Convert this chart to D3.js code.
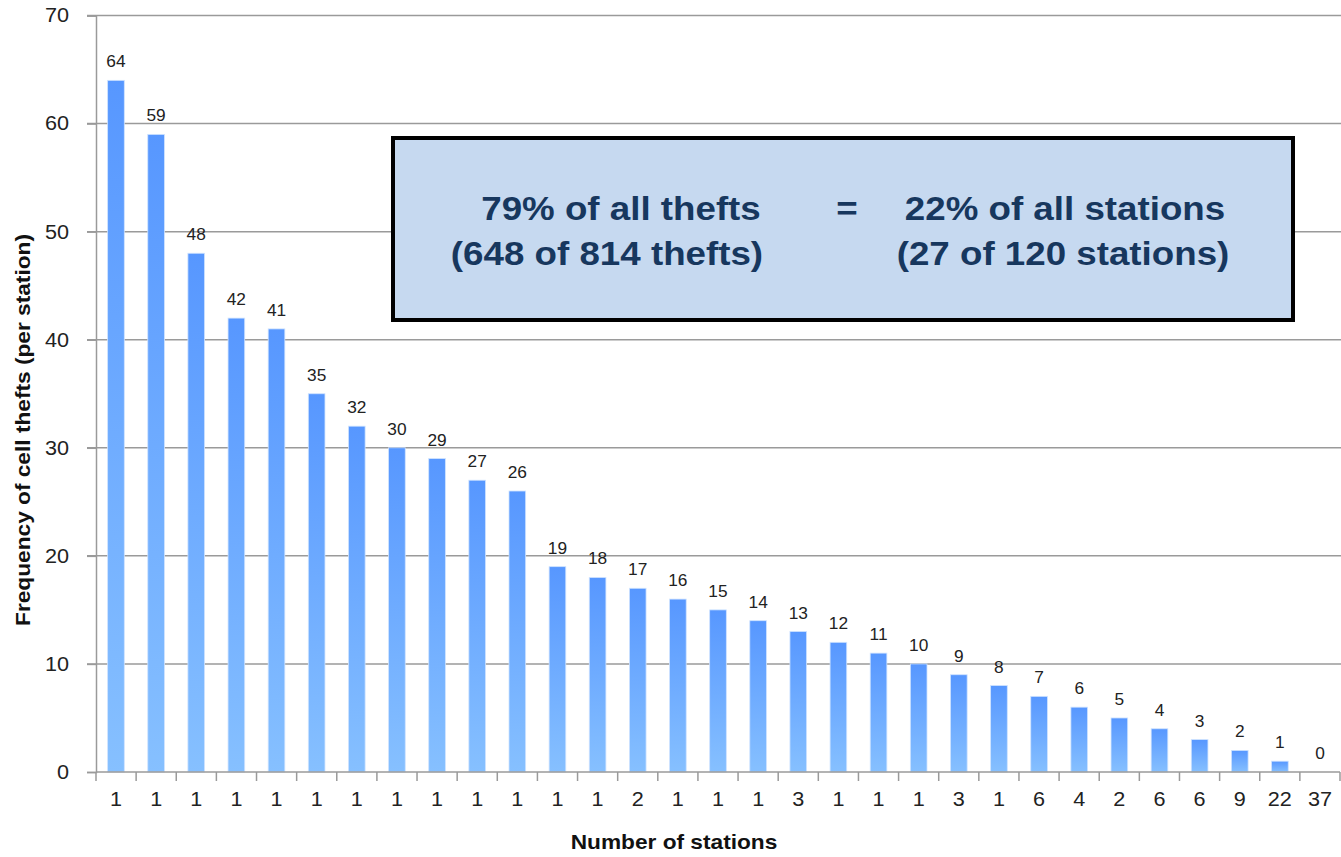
<!DOCTYPE html>
<html><head><meta charset="utf-8">
<script src="https://cdn.jsdelivr.net/npm/d3@7"></script>
<style>body{margin:0;background:#fff}svg{display:block}</style>
</head><body>
<svg id="c" width="1341" height="857"></svg>
<script>
const stations = ["1","1","1","1","1","1","1","1","1","1","1","1","1","2","1","1","1","3","1","1","1","3","1","6","4","2","6","6","9","22","37"];
const thefts = [64,59,48,42,41,35,32,30,29,27,26,19,18,17,16,15,14,13,12,11,10,9,8,7,6,5,4,3,2,1,0];
const yTicks = [0,10,20,30,40,50,60,70];
const boxLeft = ["79% of all thefts","(648 of 814 thefts)"];
const boxRight = ["22% of all stations","(27 of 120 stations)"];

const svg = d3.select("#c");
const pL = 96, pR = 1340, pT = 15.5, pB = 772;
const idx = d3.range(thefts.length);
const x = d3.scaleBand().domain(idx).range([pL, pR]).paddingInner(0.585).paddingOuter(0.29);
const xb = d3.scaleBand().domain(idx).range([pL, pR]);
const y = d3.scaleLinear().domain([0,70]).range([pB, pT]);

const defs = svg.append("defs");
const g = defs.append("linearGradient").attr("id","bg").attr("x1",0).attr("y1",0).attr("x2",0).attr("y2",1);
g.append("stop").attr("offset","0%").attr("stop-color","#5797ff");
g.append("stop").attr("offset","100%").attr("stop-color","#86c0ff");

const font = "Liberation Sans, Arial, sans-serif";
const stretch = 1.08;
function widen(sel){ sel.each(function(){ const L=this.getComputedTextLength(); if(L>0){ d3.select(this).attr("textLength", L*stretch).attr("lengthAdjust","spacingAndGlyphs"); } }); }

// gridlines
svg.append("g").selectAll("line").data(yTicks.slice(1)).join("line")
  .attr("x1", pL-9).attr("x2", pR+1).attr("y1", d=>y(d)).attr("y2", d=>y(d))
  .attr("stroke","#9a9a9a").attr("stroke-width",1.5);

// y axis
const ya = svg.append("g").attr("transform",`translate(${pL},0)`)
  .call(d3.axisLeft(y).tickValues(yTicks).tickSize(9).tickPadding(18));
ya.select(".domain").attr("stroke","#9a9a9a").attr("stroke-width",1.5);
ya.selectAll(".tick line").attr("stroke","#9a9a9a").attr("stroke-width",1.5);
ya.selectAll("text").attr("font-family",font).attr("font-size",20).attr("fill","#222");
widen(ya.selectAll("text"));

// bars
svg.append("g").selectAll("rect").data(idx).join("rect")
  .attr("x", i=>x(i)).attr("width", x.bandwidth())
  .attr("y", i=>y(thefts[i])).attr("height", i=>pB - y(thefts[i]))
  .attr("fill","url(#bg)").attr("stroke","#cfe3ff").attr("stroke-width",0.8);

// data labels
const dl = svg.append("g").selectAll("text").data(idx).join("text")
  .attr("x", i=>x(i)+x.bandwidth()/2).attr("y", i=>y(thefts[i])-13)
  .attr("text-anchor","middle").attr("font-family",font).attr("font-size",16).attr("fill","#222")
  .text(i=>thefts[i]);
widen(dl);

// x axis
const xa = svg.append("g").attr("transform",`translate(0,${pB})`)
  .call(d3.axisBottom(xb).tickFormat(i=>stations[i]).tickSize(0).tickPadding(20));
xa.select(".domain").remove();
xa.selectAll("text").attr("font-family",font).attr("font-size",20).attr("fill","#222");
widen(xa.selectAll("text"));
svg.append("line").attr("x1",pL).attr("x2",pR).attr("y1",pB).attr("y2",pB)
  .attr("stroke","#9a9a9a").attr("stroke-width",1.5);
svg.append("g").selectAll("line").data(d3.range(thefts.length+1)).join("line")
  .attr("x1", k=>pL + k*xb.step()).attr("x2", k=>pL + k*xb.step())
  .attr("y1", pB).attr("y2", pB+9).attr("stroke","#9a9a9a").attr("stroke-width",1.5);

// axis titles
const t1 = svg.append("text").attr("x", 674).attr("y", 849).attr("text-anchor","middle")
  .attr("font-family",font).attr("font-weight","bold").attr("font-size",21).attr("fill","#111")
  .text("Number of stations");
const t2 = svg.append("text").attr("transform","translate(30,430) rotate(-90)").attr("text-anchor","middle")
  .attr("font-family",font).attr("font-weight","bold").attr("font-size",21).attr("fill","#111")
  .text("Frequency of cell thefts (per station)");
widen(t1); widen(t2);

// annotation box
svg.append("rect").attr("x",393).attr("y",138).attr("width",900).attr("height",182)
  .attr("fill","#c6d9f0").attr("stroke","#000").attr("stroke-width",4);
const tc = "#17375e";
const bt = svg.append("g").attr("font-family",font).attr("font-weight","bold").attr("font-size",34).attr("fill",tc).attr("text-anchor","middle");
const leftX = [621, 607], rightX = [1065, 1063];
boxLeft.forEach((t,k)=>bt.append("text").attr("x",leftX[k]).attr("y",220+k*45).text(t));
bt.append("text").attr("x",847).attr("y",220).text("=");
boxRight.forEach((t,k)=>bt.append("text").attr("x",rightX[k]).attr("y",220+k*45).text(t));
widen(bt.selectAll("text"));
</script>
</body></html>
